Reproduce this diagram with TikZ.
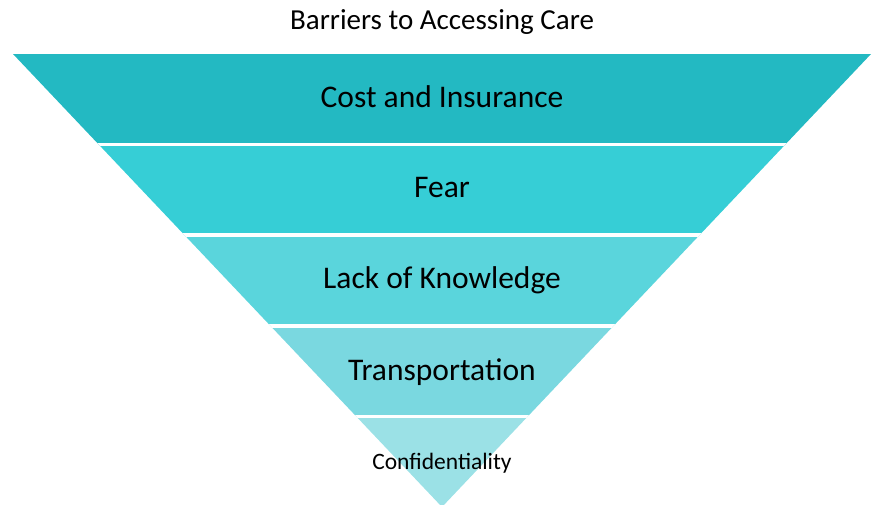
\documentclass[tikz,border=0pt]{standalone}
\usepackage{fontspec}
\setmainfont{Carlito}
\definecolor{bandA}{RGB}{35,185,194}
\definecolor{bandB}{RGB}{54,206,214}
\definecolor{bandC}{RGB}{90,213,220}
\definecolor{bandD}{RGB}{122,216,224}
\definecolor{bandE}{RGB}{155,225,230}
\tikzset{
        band/.style={draw=none},
        gap/.style={draw=white, line width=3.5pt},
        bandlabel/.style={text=black, inner sep=0pt, font=\fontsize{31.5}{36}\selectfont},
        smalllabel/.style={text=black, inner sep=0pt, font=\fontsize{23.5}{28}\selectfont},
        heading/.style={text=black, inner sep=0pt, font=\fontsize{29}{34}\selectfont}
          }
\begin{document}
\begin{tikzpicture}[x=1pt, y=-1pt]
        \useasboundingbox (0,0) rectangle (876,504);
        \coordinate (tl) at (13,54);
        \coordinate (tr) at (871,54);
        \coordinate (apex) at (442,507);
        \node[heading] (title) at (442,22) {Barriers to Accessing Care};
        \begin{scope}
          \clip (tl) -- (tr) -- (apex) -- cycle;
          \fill[band, bandA] (0,54) rectangle (876,144.6);
          \fill[band, bandB] (0,144.6) rectangle (876,235.2);
          \fill[band, bandC] (0,235.2) rectangle (876,325.8);
          \fill[band, bandD] (0,325.8) rectangle (876,416.4);
          \fill[band, bandE] (0,416.4) rectangle (876,510);
          \draw[gap] (0,144.6) -- (876,144.6);
          \draw[gap] (0,235.2) -- (876,235.2);
          \draw[gap] (0,325.8) -- (876,325.8);
          \draw[gap] (0,416.4) -- (876,416.4);
        \end{scope}
        \node[bandlabel] (cost) at (442,97) {Cost and Insurance};
        \node[bandlabel] (fear) at (442,188) {Fear};
        \node[bandlabel] (knowledge) at (442,280) {Lack of Knowledge};
        \node[bandlabel] (transport) at (442,372) {Transportation};
        \node[smalllabel] (confid) at (442,463) {Confidentiality};
      \end{tikzpicture}
\end{document}
